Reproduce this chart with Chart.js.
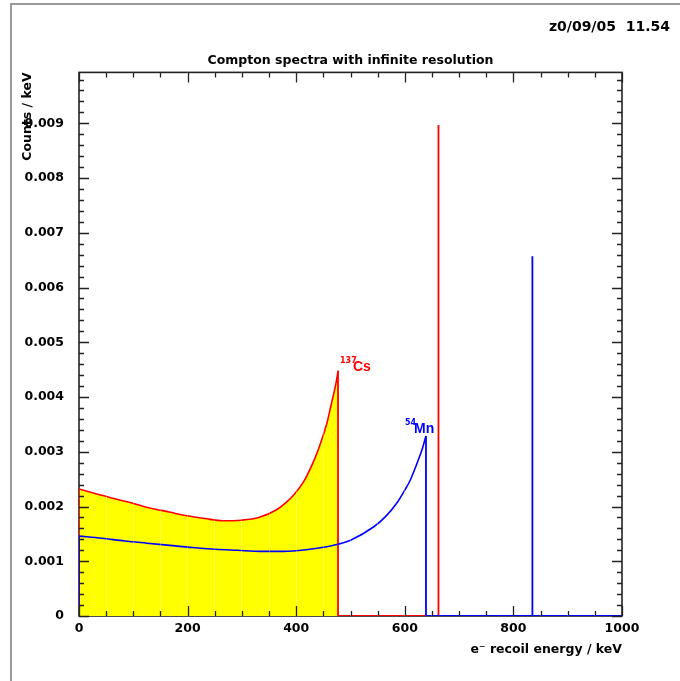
<!DOCTYPE html>
<html>
<head>
<meta charset="utf-8">
<script src="https://cdn.jsdelivr.net/npm/chart.js@4.4.1/dist/chart.umd.min.js"></script>
<style>
  html, body { margin: 0; padding: 0; background: #fff; }
  #wrap { position: relative; width: 680px; height: 681px; overflow: hidden; }
  #frame { position: absolute; left: 10px; top: 3px; width: 720px; height: 720px;
           border-left: 2px solid #9a9a9a; border-top: 2px solid #9a9a9a; }
  #c { position: absolute; left: 0; top: 0; }
</style>
</head>
<body>
<div id="wrap">
  <div id="frame"></div>
  <canvas id="c" width="680" height="681"></canvas>
</div>
<script>
// ---------- data ----------
const dateStamp = 'z0/09/05  11.54';
const chartTitle = 'Compton spectra with infinite resolution';
const xAxisTitle = 'e\u207B recoil energy / keV';
const yAxisTitle = 'Counts / keV';

// 137Cs Compton continuum (keV, counts/keV)
const energyCs = [0, 33, 66, 99, 132, 166, 199, 232, 265, 298, 331, 364, 381, 397, 414, 430, 440, 450, 457, 463, 470, 474, 477];
const countsCs = [0.00232, 0.00223, 0.00214, 0.00206, 0.00197, 0.00190, 0.00183, 0.00178, 0.00174, 0.00175,
                  0.00180, 0.00194, 0.00207, 0.00223, 0.00246, 0.00278, 0.00302, 0.00331, 0.00354, 0.00380,
                  0.00410, 0.00429, 0.00448];

// 54Mn Compton continuum
const energyMn = [0, 42, 84, 125, 167, 209, 251, 292, 334, 376, 418, 459, 477, 501, 543, 564, 585, 600, 610, 626, 633, 639];
const countsMn = [0.00146, 0.00142, 0.00137, 0.00133, 0.00129, 0.00125, 0.00122, 0.00120, 0.00118, 0.00118,
                  0.00121, 0.00127, 0.00131, 0.00139, 0.00163, 0.00181, 0.00206, 0.00230, 0.00248, 0.00288,
                  0.00308, 0.00329];

// photopeaks [Cs, Mn]
const peakEnergy = [662, 835];
const peakCounts = [0.00897, 0.00657];

const isotopeMass = ['137', '54'];
const isotopeSymbol = ['Cs', 'Mn'];

// axes
const xMin = 0, xMax = 1000, xMajorStep = 200, xMinorStep = 50;
const yMin = 0, yMax = 0.00993, yMajorStep = 0.001, yMinorStep = 0.0002;

// ---------- build series ----------
const RED = '#ff0000', BLUE = '#0000ff', YELLOW = '#ffff00';
const FONT = 'DejaVu Sans';

function curve(ex, cy) { return ex.map((e, i) => ({ x: e, y: cy[i] })); }
function edges(ex, cy, pk, pc) {
  const last = ex.length - 1;
  return [
    { x: ex[0], y: 0 }, { x: ex[0], y: cy[0] }, { x: ex[0], y: null },
    { x: ex[last], y: cy[last] }, { x: ex[last], y: 0 },
    { x: pk, y: 0 }, { x: pk, y: pc }, { x: pk, y: 0 }, { x: xMax, y: 0 }
  ];
}

const datasets = [
  { label: '54Mn lines', data: edges(energyMn, countsMn, peakEnergy[1], peakCounts[1]),
    borderColor: BLUE, borderWidth: 1.8, pointRadius: 0, tension: 0, fill: false, spanGaps: false },
  { label: '54Mn', data: curve(energyMn, countsMn),
    borderColor: BLUE, borderWidth: 1.6, pointRadius: 0, cubicInterpolationMode: 'monotone', fill: false },
  { label: '137Cs lines', data: edges(energyCs, countsCs, peakEnergy[0], peakCounts[0]),
    borderColor: RED, borderWidth: 1.8, pointRadius: 0, tension: 0, fill: false, spanGaps: false },
  { label: '137Cs', data: curve(energyCs, countsCs),
    borderColor: RED, borderWidth: 1.6, pointRadius: 0, cubicInterpolationMode: 'monotone',
    fill: 'origin', backgroundColor: YELLOW }
];

// ---------- plugins ----------
const frameAndTicks = {
  id: 'frameAndTicks',
  beforeDatasetsDraw(chart) {
    const { ctx, chartArea: a } = chart;
    ctx.save();
    ctx.strokeStyle = '#222';
    ctx.lineWidth = 1.6;
    ctx.strokeRect(a.left, a.top, a.right - a.left, a.bottom - a.top);
    ctx.restore();
  },
  afterDraw(chart) {
    const { ctx, chartArea: a, scales: { x, y } } = chart;
    ctx.save();
    ctx.strokeStyle = '#222';
    ctx.lineWidth = 1.3;
    ctx.beginPath();
    const nx = Math.round((xMax - xMin) / xMinorStep);
    for (let i = 0; i <= nx; i++) {
      const v = xMin + i * xMinorStep;
      const px = Math.round(x.getPixelForValue(v)) + 0.5;
      const len = (Math.abs(v % xMajorStep) < 1e-9) ? 10 : 5;
      ctx.moveTo(px, a.bottom); ctx.lineTo(px, a.bottom - len);
      ctx.moveTo(px, a.top); ctx.lineTo(px, a.top + len);
    }
    const perMajor = Math.round(yMajorStep / yMinorStep);
    for (let i = 0; yMin + i * yMinorStep <= yMax + 1e-12; i++) {
      const v = yMin + i * yMinorStep;
      const py = Math.round(y.getPixelForValue(v)) + 0.5;
      const len = (i % perMajor === 0) ? 10 : 5;
      ctx.moveTo(a.left, py); ctx.lineTo(a.left + len, py);
      ctx.moveTo(a.right, py); ctx.lineTo(a.right - len, py);
    }
    ctx.stroke();

    // isotope labels anchored at the Compton edges
    const anchors = [
      { ex: energyCs[energyCs.length - 1], ey: countsCs[countsCs.length - 1], col: RED, dxS: 2, dyS: -8, dxM: 15, dyM: 0 },
      { ex: energyMn[energyMn.length - 1], ey: countsMn[countsMn.length - 1], col: BLUE, dxS: -21, dyS: -11, dxM: -12, dyM: -3 }
    ];
    anchors.forEach((an, i) => {
      const px = x.getPixelForValue(an.ex), py = y.getPixelForValue(an.ey);
      ctx.fillStyle = an.col;
      ctx.textAlign = 'left';
      ctx.textBaseline = 'alphabetic';
      ctx.font = 'bold 8px "' + FONT + '"';
      ctx.fillText(isotopeMass[i], px + an.dxS, py + an.dyS);
      ctx.font = 'bold 14px "Liberation Sans"';
      ctx.fillText(isotopeSymbol[i], px + an.dxM, py + an.dyM);
    });
    ctx.restore();
  }
};

const tickFont = { family: FONT, size: 12.5, weight: 'bold' };

new Chart(document.getElementById('c'), {
  type: 'line',
  data: { datasets },
  options: {
    responsive: false,
    animation: false,
    devicePixelRatio: 1,
    layout: { padding: { left: 0, right: 10, top: 0, bottom: 0 } },
    plugins: {
      legend: { display: false },
      tooltip: { enabled: false },
      title: {
        display: true, text: dateStamp, align: 'end', color: '#000',
        font: { family: FONT, size: 14, weight: 'bold' },
        padding: { top: 18.6, bottom: 17.6 }
      },
      subtitle: {
        display: true, text: chartTitle, align: 'center', color: '#000', fullSize: false,
        font: { family: FONT, size: 12.5, weight: 'bold' },
        padding: { top: 0, bottom: 4.4 }
      }
    },
    scales: {
      x: {
        type: 'linear', position: 'bottom', min: xMin, max: xMax,
        border: { display: false },
        grid: {
          z: 1, drawTicks: false, tickLength: 0, lineWidth: 1,
          color: (c) => (c.tick && c.tick.value > xMin && c.tick.value < xMax) ? 'rgba(255,255,255,0.28)' : 'rgba(0,0,0,0)'
        },
        ticks: {
          stepSize: xMinorStep, autoSkip: false, maxRotation: 0, padding: 5, color: '#000', font: tickFont,
          callback: (v) => (Math.abs(v % xMajorStep) < 1e-9 ? String(v) : '')
        },
        title: {
          display: true, text: xAxisTitle, align: 'end', color: '#000',
          font: { family: FONT, size: 12.5, weight: 'bold' },
          padding: { top: 0, bottom: 24 }
        },
        afterFit: (s) => { s.height = 65; }
      },
      y: {
        type: 'linear', position: 'left', min: yMin, max: yMax,
        border: { display: false },
        grid: { display: false, drawTicks: false },
        ticks: {
          stepSize: yMajorStep, padding: 15, color: '#000', font: tickFont,
          callback: (v) => {
            const k = Math.round(v / yMajorStep);
            if (Math.abs(v - k * yMajorStep) > 1e-9) return '';
            return k === 0 ? '0' : (k * yMajorStep).toFixed(3);
          }
        },
        title: {
          display: true, text: yAxisTitle, align: 'end', color: '#000',
          font: { family: FONT, size: 12.5, weight: 'bold' },
          padding: { top: 20, bottom: 0 }
        },
        afterFit: (s) => { s.width = 79; }
      },
      y2: {
        type: 'linear', position: 'right', display: true,
        border: { display: false },
        grid: { display: false, drawTicks: false },
        ticks: { display: false },
        afterFit: (s) => { s.width = 48; }
      }
    }
  },
  plugins: [frameAndTicks]
});
</script>
</body>
</html>
